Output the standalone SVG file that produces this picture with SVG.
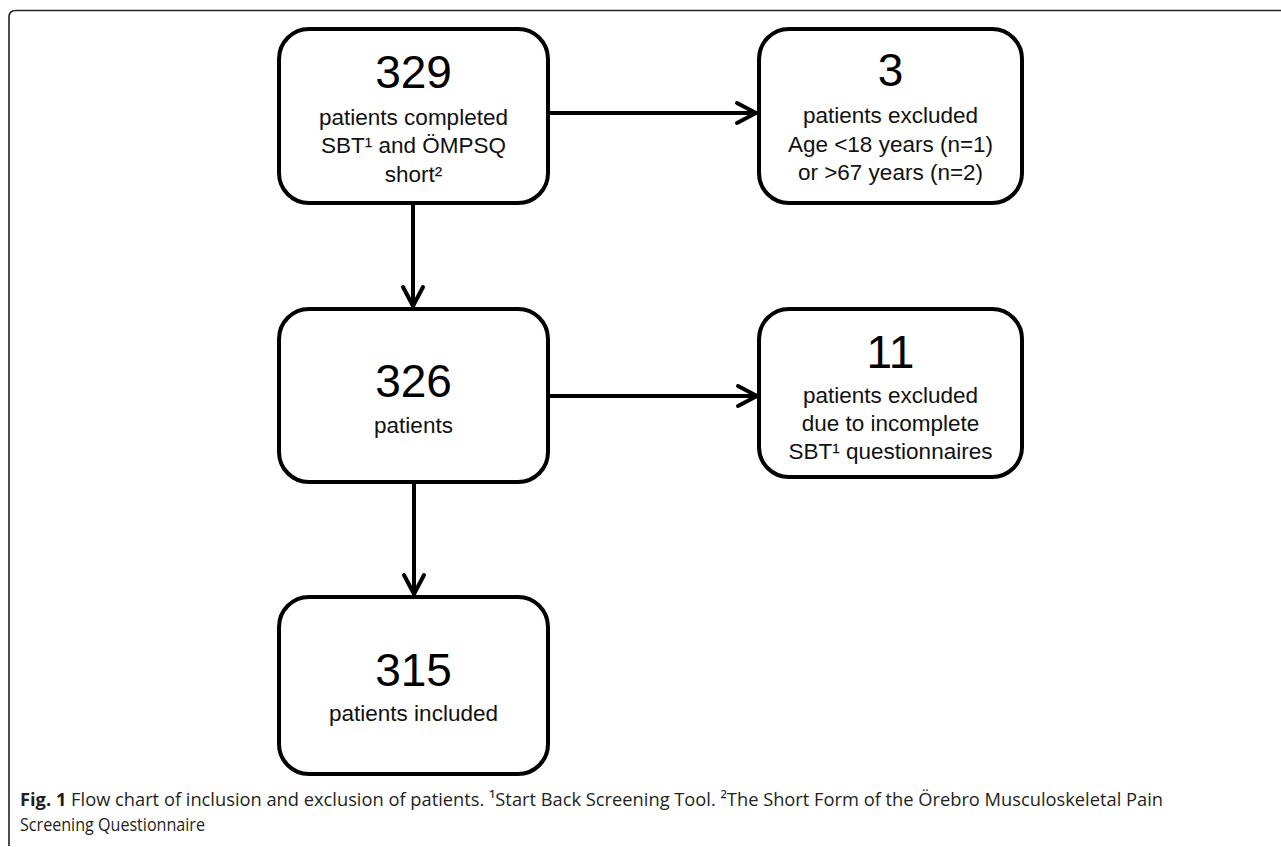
<svg xmlns="http://www.w3.org/2000/svg" width="1281" height="847" viewBox="0 0 1281 847">
<style>
.box{fill:#fff;stroke:#000;stroke-width:4}
.num{font-family:"Liberation Sans",Arial,sans-serif;font-size:46px;fill:#000;text-anchor:middle}
.lbl{font-family:"Liberation Sans",Arial,sans-serif;font-size:22.5px;fill:#111;text-anchor:middle}
.conn{stroke:#000;stroke-width:4;fill:none}
.cap{font-family:"Open Sans","Noto Sans",sans-serif;font-size:18.5px;fill:#231f20}
</style>
<defs>
<marker id="arr" markerUnits="userSpaceOnUse" markerWidth="30" markerHeight="30" viewBox="-25 -15 30 30" refX="0" refY="0" orient="auto">
<path d="M -20 -10 L -1 0 L -20 10" fill="none" stroke="#000" stroke-width="4" stroke-linecap="round" stroke-linejoin="round"/>
</marker>
</defs>
<rect width="1281" height="847" fill="#fff"/>
<path d="M 9 846 L 9 17 Q 9 10.5 16 10.5 L 1281 10.5" fill="none" stroke="#222" stroke-width="1.6"/>

<g id="connectors">
<line class="conn" x1="548" y1="113" x2="757" y2="113" marker-end="url(#arr)"/>
<line class="conn" x1="413" y1="203" x2="413" y2="307" marker-end="url(#arr)"/>
<line class="conn" x1="548" y1="396" x2="758" y2="396" marker-end="url(#arr)"/>
<line class="conn" x1="414" y1="482" x2="414" y2="595" marker-end="url(#arr)"/>
</g>

<g id="n329">
<rect class="box" x="279" y="29" width="269" height="174" rx="30"/>
<text class="num" x="413.5" y="88">329</text>
<text class="lbl" x="413.5" y="125">patients completed</text>
<text class="lbl" x="413.5" y="153">SBT¹ and ÖMPSQ</text>
<text class="lbl" x="413.5" y="182">short²</text>
</g>

<g id="n3">
<rect class="box" x="759" y="29" width="263" height="174" rx="30"/>
<text class="num" x="890.5" y="86">3</text>
<text class="lbl" x="890.5" y="123">patients excluded</text>
<text class="lbl" x="890.5" y="152">Age &lt;18 years (n=1)</text>
<text class="lbl" x="890.5" y="180">or &gt;67 years (n=2)</text>
</g>

<g id="n326">
<rect class="box" x="279" y="309" width="269" height="173" rx="30"/>
<text class="num" x="413.5" y="397">326</text>
<text class="lbl" x="413.5" y="433">patients</text>
</g>

<g id="n11">
<rect class="box" x="759" y="309" width="263" height="168" rx="30"/>
<text class="num" x="890.5" y="368">11</text>
<text class="lbl" x="890.5" y="403">patients excluded</text>
<text class="lbl" x="890.5" y="431">due to incomplete</text>
<text class="lbl" x="890.5" y="459">SBT¹ questionnaires</text>
</g>

<g id="n315">
<rect class="box" x="279" y="597" width="269" height="177" rx="30"/>
<text class="num" x="413.5" y="686">315</text>
<text class="lbl" x="413.5" y="721">patients included</text>
</g>

<g id="caption">
<text class="cap" x="20" y="806" textLength="1143" lengthAdjust="spacingAndGlyphs"><tspan font-weight="bold">Fig. 1</tspan> Flow chart of inclusion and exclusion of patients. ¹Start Back Screening Tool. ²The Short Form of the Örebro Musculoskeletal Pain</text>
<text class="cap" x="20" y="831" textLength="185" lengthAdjust="spacingAndGlyphs">Screening Questionnaire</text>
</g>
</svg>
